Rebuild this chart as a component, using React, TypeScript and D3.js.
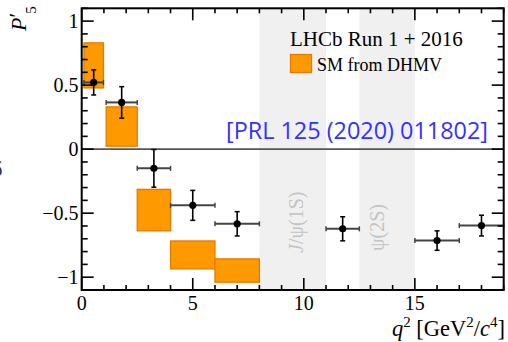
import * as d3 from "d3";

// measured P'5 bins
const binLo = [0.1, 1.1, 2.5, 4, 6, 11, 15, 17];
const binHi = [0.98, 2.5, 4, 6, 8, 12.5, 17, 19];
const p5 = [0.521, 0.365, -0.15, -0.439, -0.583, -0.622, -0.714, -0.597];
const p5Err = [0.098, 0.123, 0.147, 0.117, 0.095, 0.094, 0.076, 0.081];

// SM prediction (DHMV) boxes
const smLo = [0.1, 1.1, 2.5, 4, 6];
const smHi = [0.98, 2.5, 4, 6, 8];
const smMin = [0.478, 0.023, -0.638, -0.935, -1.039];
const smMax = [0.83, 0.33, -0.314, -0.717, -0.857];

// charmonium vetoes
const vetoLo = [8, 12.5];
const vetoHi = [11, 15];
const vetoLabels = ["J/ψ(1S)", "ψ(2S)"];

const xTicks = [0, 5, 10, 15];
const yTicks = [-1, -0.5, 0, 0.5, 1];

const W = 508;
const H = 342;
const serif = "'Liberation Serif', 'DejaVu Serif', serif";

export default function App() {
  const x = d3.scaleLinear().domain([0, 19]).range([81.7, 503.7]);
  const y = d3.scaleLinear().domain([-1.1, 1.1]).range([290, 8.3]);
  const [x0, x1] = x.range();
  const [y0, y1] = y.range();
  const fmt = d3.format("~g");

  const xMinor = d3.range(0, 20, 1);
  const yMinor = d3.range(-11, 12).map((v) => v / 10);
  const cap = 2.5;

  return (
    <svg
      width={W}
      height={H}
      style={{ position: "absolute", left: 0, top: 0, background: "#fff" }}
      fontFamily={serif}
    >
      {/* veto bands */}
      {vetoLo.map((lo, i) => (
        <rect
          key={"v" + i}
          x={x(lo)}
          y={y1}
          width={x(vetoHi[i]) - x(lo)}
          height={y0 - y1}
          fill="#f0f0f0"
        />
      ))}
      <text
        transform={`translate(303,253) rotate(-90)`}
        fontSize={20}
        fill="#c4c4c4"
      >
        <tspan fontStyle="italic">J</tspan>/ψ(1S)
      </text>
      <text
        transform={`translate(384,251) rotate(-90)`}
        fontSize={20}
        fill="#c4c4c4"
      >
        {vetoLabels[1]}
      </text>

      {/* reference text */}
      <text
        x={488}
        y={139}
        textAnchor="end"
        fontFamily="'Open Sans', 'DejaVu Sans', sans-serif"
        fontSize={23}
        fill="#3333ff"
        textLength={262}
        lengthAdjust="spacingAndGlyphs"
      >
        [PRL 125 (2020) 011802]
      </text>

      {/* zero line */}
      <line x1={x0} x2={x1} y1={y(0)} y2={y(0)} stroke="#555" strokeWidth={1.6} />

      {/* SM boxes */}
      {smLo.map((lo, i) => (
        <rect
          key={"sm" + i}
          x={x(lo)}
          y={y(smMax[i])}
          width={x(smHi[i]) - x(lo)}
          height={y(smMin[i]) - y(smMax[i])}
          fill="#ff9900"
          stroke="#e57a00"
          strokeWidth={1.3}
        />
      ))}

      {/* data points */}
      {p5.map((v, i) => {
        const cx = x((binLo[i] + binHi[i]) / 2);
        const cy = y(v);
        const ya = y(v + p5Err[i]);
        const yb = y(v - p5Err[i]);
        const xa = x(binLo[i]);
        const xb = x(binHi[i]);
        return (
          <g key={"p" + i}>
            <line x1={xa} x2={xb} y1={cy} y2={cy} stroke="#444" strokeWidth={2} />
            <line x1={xa} x2={xa} y1={cy - cap} y2={cy + cap} stroke="#444" strokeWidth={1.5} />
            <line x1={xb} x2={xb} y1={cy - cap} y2={cy + cap} stroke="#444" strokeWidth={1.5} />
            <line x1={cx} x2={cx} y1={ya} y2={yb} stroke="#000" strokeWidth={1.6} />
            <line x1={cx - cap} x2={cx + cap} y1={ya} y2={ya} stroke="#000" strokeWidth={1.5} />
            <line x1={cx - cap} x2={cx + cap} y1={yb} y2={yb} stroke="#000" strokeWidth={1.5} />
            <circle cx={cx} cy={cy} r={3.6} fill="#000" />
          </g>
        );
      })}

      {/* ticks */}
      {xMinor.map((t) => {
        const major = t % 5 === 0;
        const len = major ? 12 : 5;
        return (
          <g key={"xt" + t} stroke="#000" strokeWidth={1.6}>
            <line x1={x(t)} x2={x(t)} y1={y0} y2={y0 - len} />
            <line x1={x(t)} x2={x(t)} y1={y1} y2={y1 + len} />
          </g>
        );
      })}
      {yMinor.map((t) => {
        const major = Math.abs(Math.round(t * 10) % 5) === 0;
        const len = major ? 12 : 6;
        return (
          <g key={"yt" + t} stroke="#000" strokeWidth={1.6}>
            <line x1={x0} x2={x0 + len} y1={y(t)} y2={y(t)} />
            <line x1={x1} x2={x1 - len} y1={y(t)} y2={y(t)} />
          </g>
        );
      })}

      {/* frame */}
      <rect
        x={x0}
        y={y1}
        width={x1 - x0}
        height={y0 - y1}
        fill="none"
        stroke="#000"
        strokeWidth={2}
      />

      {/* tick labels */}
      {xTicks.map((t) => (
        <text key={"xl" + t} x={x(t)} y={310} textAnchor="middle" fontSize={20}>
          {fmt(t)}
        </text>
      ))}
      {yTicks.map((t) => (
        <text key={"yl" + t} x={78.5} y={y(t) + 6.5} textAnchor="end" fontSize={20}>
          {fmt(t)}
        </text>
      ))}

      {/* axis titles */}
      <text x={505} y={336} textAnchor="end" fontSize={22.5}>
        <tspan fontStyle="italic">q</tspan>
        <tspan dy={-9} fontSize={15}>2</tspan>
        <tspan dy={9}> [GeV</tspan>
        <tspan dy={-9} fontSize={15}>2</tspan>
        <tspan dy={9}>/</tspan>
        <tspan fontStyle="italic">c</tspan>
        <tspan dy={-9} fontSize={15}>4</tspan>
        <tspan dy={9}>]</tspan>
      </text>
      <text transform="translate(26,31) rotate(-90)" fontSize={22}>
        <tspan fontStyle="italic">P</tspan>
        <tspan dy={-2}>′</tspan>
        <tspan dy={12} dx={-1} fontSize={15}>5</tspan>
      </text>
      <text x={-7} y={176} fontSize={20} fill="#2a2a5e">
        δ
      </text>

      {/* legend */}
      <text x={290} y={46} fontSize={21}>
        LHCb Run 1 + 2016
      </text>
      <rect
        x={290.5}
        y={54.5}
        width={21}
        height={18}
        fill="#ff9900"
        stroke="#e57a00"
        strokeWidth={1.3}
      />
      <text x={317} y={71} fontSize={18}>
        SM from DHMV
      </text>
    </svg>
  );
}
